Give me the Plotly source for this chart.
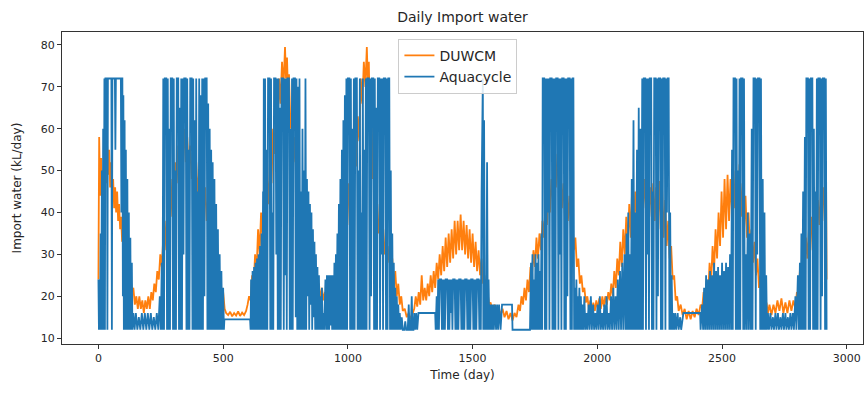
import plotly.graph_objects as go

# ---- Data ----
# DUWCM daily import water (day, kL/day)
duwcm_points = [
(0,24),(3,58),(7,44),(11,53),(15,41),(19,50),(23,45),(27,55),(31,47),(35,56),(39,49),(43,55),(47,46),(51,52),(55,44),(59,48),
(63,41),(67,46),(71,40),(75,45),(79,38),(83,42),(87,36),(91,39),(95,33),(99,36),(104,30),(109,33),(114,27),(119,29),(124,24),(129,25),
(134,21),(140,22),(146,18),(152,20),(158,17),(164,20),(170,17),(176,19),(182,16),(188,19),(194,17),(200,20),(206,17),(212,21),(218,19),
(224,23),(230,21),(236,26),(242,24),(248,30),(254,27),(260,34),(266,31),(272,38),(278,35),(284,43),(290,39),(296,48),(302,44),(308,52),
(314,47),(320,56),(326,50),(332,59),(338,53),(344,60),(350,52),(356,58),(362,50),(368,56),(374,48),(380,54),(386,46),(392,52),(398,44),
(404,50),(410,42),(416,49),(422,40),(428,46),(434,38),(440,44),(446,34),(452,38),(458,30),(464,33),(470,27),(476,29),(482,24),(488,25),
(494,21),(500,21),(506,17),(512,16),(520,15.5),(528,16.3),(536,15.2),(544,16),(552,15.4),(560,16.4),(568,15.3),(576,16.1),(584,15.5),
(592,16.5),(598,18),(604,20),(610,19),(616,25),(622,22),(628,30),(634,26),(640,36),(646,30),(652,40),(658,34),(664,44),(670,38),(676,48),
(682,42),(688,54),(694,47),(700,60),(706,54),(712,66),(718,60),(724,72),(730,66),(736,76),(742,70),(748,79.5),(752,72),(756,77),(760,68),
(764,73),(770,60),(776,64),(782,52),(788,58),(794,45),(800,50),(806,38),(812,43),(818,34),(824,38),(830,30),(836,34),(842,27),(848,31),
(854,24),(860,28),(866,22),(872,25),(878,21),(884,23),(890,19),(896,22),(902,19),(908,21),(914,18.5),(920,21),(926,19),(932,22),(938,20),
(944,24),(950,22),(956,28),(962,25),(968,32),(974,28),(980,37),(986,32),(992,42),(998,37),(1004,47),(1010,41),(1016,52),(1022,46),
(1028,57),(1034,51),(1040,63),(1046,57),(1052,72),(1058,66),(1064,76),(1070,70),(1076,79.5),(1080,71),(1084,76),(1088,62),(1094,66),
(1100,48),(1106,52),(1112,38),(1118,42),(1124,35),(1130,39),(1136,32),(1142,36),(1148,30),(1154,34),(1160,28),(1166,32),(1172,25),
(1178,29),(1184,22),(1190,26),(1196,20),(1202,23),(1208,18),(1214,20),(1220,16.5),(1228,17),(1236,15),(1244,16),(1252,14.5),(1260,16),
(1266,17),(1272,20),(1278,17.5),(1284,21),(1290,18),(1296,25),(1302,19),(1308,22),(1314,19),(1320,23),(1326,20),(1332,25),(1338,21),
(1344,26),(1350,22),(1356,28),(1362,24),(1368,30),(1374,25),(1380,32),(1386,26),(1392,34),(1398,27),(1404,35),(1410,28),(1416,36),
(1422,29),(1428,38),(1434,30),(1440,38),(1446,31),(1452,39.5),(1458,31),(1464,38),(1470,30),(1476,37),(1482,29),(1488,36),(1494,28),
(1500,35),(1506,27),(1512,33),(1518,26),(1524,31),(1530,25),(1536,29),(1542,23),(1548,25),(1554,20),(1560,21),(1566,18),(1572,18.5),
(1580,16.5),(1588,18),(1596,16),(1604,17.5),(1612,15.5),(1620,17),(1628,15),(1636,16.5),(1644,14.5),(1652,16),(1660,14.2),(1668,16),
(1676,15),(1684,18),(1690,16.5),(1696,20),(1702,18),(1708,22),(1714,19),(1720,24),(1726,21),(1732,27),(1738,25),(1744,31),(1750,27),
(1756,34),(1762,29),(1768,35),(1774,31),(1780,38),(1786,34),(1792,42),(1798,37),(1804,45),(1810,40),(1816,48),(1822,43),(1828,52),
(1834,46),(1840,54),(1846,45),(1852,50),(1858,41),(1864,47),(1870,39),(1876,46),(1882,38),(1888,44),(1894,36),(1900,39),(1906,31),
(1912,34),(1918,27),(1924,29),(1930,23),(1936,25),(1942,21),(1948,22),(1954,18.5),(1960,20),(1966,17),(1972,19),(1978,16.5),(1984,18.5),
(1990,16.5),(1996,19),(2002,17),(2008,19.5),(2014,17),(2020,20),(2026,17.5),(2032,20),(2038,18),(2044,21),(2050,19),(2056,23),(2062,20),
(2068,26),(2074,22),(2080,29),(2086,25),(2092,33),(2098,27),(2104,36),(2110,30),(2116,39),(2122,32),(2128,42),(2134,34),(2140,47),
(2146,37),(2152,45),(2158,38),(2164,46),(2170,39),(2176,47),(2182,40),(2188,48),(2194,41),(2200,47),(2206,40),(2212,46),(2218,39),
(2224,47),(2230,38),(2236,46),(2242,37),(2248,47.5),(2254,36),(2260,45),(2266,34),(2272,43),(2278,32),(2284,38),(2290,29),(2296,32),
(2302,24),(2308,25),(2314,19),(2320,20),(2326,16.5),(2334,18),(2342,15.5),(2350,17),(2358,14.5),(2366,16.5),(2374,14.5),(2382,16.5),
(2390,15),(2398,17),(2406,15.5),(2414,18),(2420,17),(2426,21),(2432,18),(2438,24),(2444,20),(2450,28),(2456,23),(2462,32),(2468,26),
(2474,36),(2480,29),(2486,40),(2492,32),(2498,45),(2504,34),(2510,48),(2516,36),(2522,49),(2528,38),(2534,48),(2540,40),(2546,50),
(2552,41),(2558,49),(2564,40),(2570,51.5),(2576,39),(2582,47),(2588,36),(2594,44),(2600,34),(2606,40),(2612,31),(2618,36),(2624,28),
(2630,33),(2636,25),(2642,29),(2648,22),(2654,25),(2660,19.5),(2666,21),(2672,17),(2678,18.5),(2684,16),(2690,18),(2698,15.5),(2706,18),
(2714,16),(2722,19),(2730,16.5),(2738,19.5),(2746,16),(2754,18.5),(2762,16),(2770,19),(2778,16.5),(2786,19),(2794,17),(2800,21),(2806,20),
(2812,26),(2818,23),(2824,30),(2830,26),(2836,34),(2842,29),(2848,36),(2854,31),(2860,39),(2866,33),(2872,41),(2878,35),(2884,43),
(2890,37),(2896,45),(2902,38),(2908,46),(2914,40),(2917,47),(2919,24),
]

# Aquacycle daily import water (day, kL/day)
aquacycle_points = [
(0,24),(2,12),(4,24),(6,12),(9,35),(11,12),(14,50),(16,12),(19,60),(21,12),(24,72),(26,12),(28,72),(34,72),(36,12),(38,72),(52,72),
(54,12),(56,72),(66,72),(68,55),(70,72),(90,72),(92,40),(94,72),(96,72),(98,20),(100,68),(102,12),(105,62),(107,12),(110,55),(112,12),
(116,48),(118,12),(122,40),(124,12),(128,34),(130,12),(134,28),(136,12),
(140,16),(145,12),(150,16),(156,12),(162,15),(168,12),(174,16),(180,12),(186,16),(192,12),(198,16),(204,12),(210,16),(216,12),(222,15),
(228,12),(234,16),(240,12),(246,20),(250,12),(254,28),(257,12),
(260,72),(263,12),(266,72),(272,72),(275,12),(278,72),(281,12),(284,60),(287,12),(290,72),(296,72),(299,12),(302,72),(305,12),(308,50),
(311,12),(314,72),(320,72),(323,12),(326,65),(329,12),(332,72),(335,12),(338,72),(341,30),(344,72),(350,72),(353,12),(356,72),(359,12),
(362,55),(365,12),(368,72),(374,72),(377,12),(380,72),(383,12),(386,62),(389,12),(392,72),(395,12),(398,45),(401,12),(404,72),(407,12),
(410,68),(413,12),(416,72),(419,12),(422,72),(425,20),(428,72),(434,72),(437,12),(440,66),(443,12),(446,60),(449,12),(452,55),(455,12),
(458,52),(461,12),(465,48),(468,12),(472,42),(475,12),(479,36),(482,12),(486,30),(489,12),(493,26),(496,12),(500,22),(503,12),
(505,14.5),(608,14.5),(610,12),
(612,24),(615,12),(618,26),(621,12),(624,27),(627,12),(630,28),(633,12),(636,29),(639,12),(642,30),(645,12),(648,32),(651,12),(654,35),
(657,12),(660,45),(661,12),
(663,72),(665,12),(668,72),(671,12),(674,55),(677,12),(680,72),(686,72),(689,12),(692,72),(695,12),(698,40),(701,12),(704,72),(710,72),
(713,30),(716,72),(719,12),(722,72),(725,12),(728,65),(731,12),(734,72),(740,72),(743,12),(746,72),(749,25),(752,72),(755,12),(758,72),
(764,72),(767,12),(770,60),(773,12),(776,72),(779,12),(782,72),(788,72),(791,15),(794,72),(797,12),(800,70),(803,12),(806,72),(809,12),
(812,45),(815,12),(818,60),(821,12),(824,50),(827,12),(830,72),(833,12),(836,48),(839,20),(842,45),(845,12),(848,42),(851,18),(854,40),
(857,12),(860,36),(863,15),(866,33),(869,12),(872,30),(875,12),(878,27),(881,12),(884,25),(887,12),
(890,20),(893,12),(896,22),(899,12),(902,16),(905,12),(910,24),(913,12),(916,25),(919,12),(922,25),(925,12),(928,25),(931,13),(934,25),
(937,12),(940,25),(943,12),
(946,28),(949,12),(952,30),(955,12),(958,35),(961,12),(964,42),(967,12),(970,48),(973,12),(976,55),(979,12),(982,62),(985,12),(988,68),
(991,12),(994,72),(997,12),
(1000,72),(1006,72),(1009,12),(1012,72),(1015,12),(1018,60),(1021,12),(1024,72),(1027,12),(1030,72),(1036,72),(1039,12),(1042,50),
(1045,12),(1048,72),(1051,12),(1054,40),(1057,12),(1060,72),(1063,12),(1066,55),(1069,12),(1072,72),(1075,12),(1078,72),(1084,72),
(1087,12),(1090,72),(1093,20),(1096,72),(1102,72),(1105,12),(1108,72),(1111,12),(1114,65),(1117,12),(1120,72),(1126,72),(1129,12),
(1132,72),(1135,30),(1138,72),(1141,12),(1144,72),(1150,72),(1153,12),(1156,72),(1159,12),(1162,72),(1166,72),(1169,12),(1172,50),
(1175,12),(1178,35),(1181,12),(1184,28),(1187,12),(1190,22),(1193,12),
(1196,20),(1199,12),(1202,18),(1205,12),(1208,16),(1212,12),(1216,15),(1220,12),(1226,12),(1230,14),(1234,12),(1240,12),(1244,18),
(1247,12),(1252,12),(1256,20),(1259,12),(1263,12),
(1266,16),(1270,12),(1274,16),(1278,12),(1283,16),(1350,16),(1352,12),(1356,20),(1359,12),
(1362,24),(1365,12),(1368,24),(1374,24),(1377,12),(1380,24),(1383,12),(1386,24),(1389,12),(1392,24),(1398,24),(1401,12),(1404,24),
(1407,12),(1410,24),(1413,16),(1416,24),(1419,12),(1422,24),(1428,24),(1431,12),(1434,24),(1437,12),(1440,24),(1443,12),(1446,24),
(1452,24),(1455,12),(1458,24),(1461,12),(1464,24),(1467,12),(1470,24),(1476,24),(1479,12),(1482,24),(1485,12),(1488,24),(1491,12),
(1494,24),(1500,24),(1503,12),(1506,24),(1509,12),(1512,24),(1515,12),(1518,24),(1524,24),(1527,12),(1530,24),(1533,12),(1536,45),
(1539,72),(1541,72),(1543,12),(1546,62),(1549,12),(1552,24),(1555,12),(1558,52),(1561,12),(1564,24),(1567,12),
(1570,18),(1573,12),(1576,18),(1579,12),(1582,18),(1585,12),(1590,18),(1594,12),(1598,18),(1602,12),(1606,18),(1612,12),(1618,18),
(1658,18),(1660,12),(1730,12),
(1734,28),(1737,12),(1740,30),(1743,12),(1746,24),(1749,12),(1752,30),(1755,12),(1758,28),(1761,12),(1764,30),(1767,12),(1770,26),
(1773,12),(1776,35),(1779,12),
(1781,72),(1787,72),(1790,12),(1793,72),(1796,12),(1799,72),(1802,40),(1805,72),(1808,12),(1811,72),(1817,72),(1820,12),(1823,72),
(1826,12),(1829,72),(1832,12),(1835,72),(1841,72),(1844,12),(1847,72),(1850,30),(1853,72),(1856,12),(1859,72),(1865,72),(1868,12),
(1871,72),(1874,12),(1877,72),(1880,20),(1883,72),(1889,72),(1892,12),(1895,72),(1898,12),(1901,72),(1904,72),(1907,12),(1910,22),
(1913,12),(1916,24),(1919,12),(1922,20),(1925,12),(1928,22),(1931,12),(1934,20),(1937,12),
(1940,18),(1944,12),(1948,20),(1952,12),(1956,16),(1960,12),(1965,18),(1969,12),(1974,20),(1978,12),(1983,18),(1987,12),(1992,16),
(1996,12),(2001,18),(2005,12),(2010,20),(2014,12),(2019,16),(2023,12),(2028,18),(2032,12),(2037,20),(2041,12),(2046,16),(2050,12),
(2055,20),(2059,12),(2064,22),(2068,12),(2073,20),(2077,12),(2082,24),(2086,12),(2091,26),(2095,12),(2100,28),(2104,12),(2109,30),
(2113,12),(2117,35),
(2120,12),(2124,40),(2127,12),(2131,30),(2134,12),(2138,48),(2141,12),(2145,62),(2148,12),(2152,40),(2155,12),(2159,55),(2162,12),
(2166,65),(2169,12),(2173,60),(2176,12),(2180,72),(2183,12),(2186,72),(2192,72),(2195,12),(2198,72),(2201,30),(2204,72),(2207,12),
(2210,72),(2216,72),(2219,12),(2222,45),(2225,12),(2228,72),(2234,72),(2237,12),(2240,72),(2243,20),(2246,72),(2252,72),(2255,12),
(2258,72),(2261,12),(2264,72),(2270,72),(2273,12),(2276,72),(2279,40),(2282,72),(2286,72),(2289,12),(2292,40),(2295,12),(2298,25),
(2301,12),
(2304,16),(2308,12),(2312,16),(2316,12),(2322,16),(2326,12),(2332,15),(2336,12),(2345,16),(2412,16),(2414,12),(2420,18),(2424,12),
(2428,22),(2432,12),(2436,25),(2440,12),(2444,24),(2448,12),(2452,26),(2456,12),(2460,25),(2464,12),(2468,28),(2472,12),(2476,26),
(2480,12),(2484,27),(2488,12),(2492,25),(2496,12),(2500,28),(2504,12),(2508,26),(2512,12),(2516,28),(2520,12),(2524,27),(2528,12),
(2532,30),(2536,12),
(2540,55),(2543,12),(2546,72),(2552,72),(2555,12),(2558,72),(2561,12),(2564,50),(2567,12),(2570,72),(2573,12),(2576,72),(2582,72),
(2585,12),(2588,72),(2591,12),(2595,30),(2599,12),(2603,40),(2607,12),(2611,35),(2615,12),(2619,60),(2622,12),(2626,72),(2632,72),
(2635,12),(2638,72),(2641,30),(2644,72),(2650,72),(2653,12),(2656,72),(2659,12),(2663,48),(2666,12),(2670,40),(2673,12),(2677,25),
(2680,12),
(2684,16),(2688,12),(2694,16),(2698,12),(2704,15),(2708,12),(2714,16),(2718,12),(2724,16),(2728,12),(2734,15),(2738,12),(2744,16),
(2748,12),(2754,16),(2758,12),(2764,15),(2768,12),(2774,16),(2778,12),(2784,16),(2788,12),(2794,20),(2798,12),(2804,25),(2808,12),
(2812,28),(2815,12),(2818,35),(2821,12),(2825,45),(2828,12),(2832,58),(2835,12),(2838,72),(2844,72),(2847,12),(2850,72),(2853,12),
(2856,72),(2862,72),(2865,12),(2868,60),(2871,12),(2874,45),(2877,12),(2880,72),(2883,12),(2886,72),(2892,72),(2895,12),(2898,72),
(2901,20),(2904,72),(2910,72),(2913,12),(2916,72),(2919,12),
]

duwcm_day = [p[0] for p in duwcm_points]
duwcm_val = [p[1] for p in duwcm_points]
aqua_day = [p[0] for p in aquacycle_points]
aqua_val = [p[1] for p in aquacycle_points]

x_ticks = [0, 500, 1000, 1500, 2000, 2500, 3000]
y_ticks = [10, 20, 30, 40, 50, 60, 70, 80]

FONT = "DejaVu Sans"

fig = go.Figure()
fig.add_trace(go.Scatter(x=duwcm_day, y=duwcm_val, mode="lines", name="DUWCM",
                         line=dict(color="#ff7f0e", width=1.8)))
fig.add_trace(go.Scatter(x=aqua_day, y=aqua_val, mode="lines", name="Aquacycle",
                         line=dict(color="#1f77b4", width=1.8)))

axis_common = dict(showline=True, mirror=True, linecolor="#333333", linewidth=1,
                   ticks="outside", ticklen=4, tickcolor="#333333", showgrid=False,
                   zeroline=False, automargin=False,
                   tickfont=dict(family=FONT, size=11, color="#262626"))

fig.update_layout(
    width=865, height=394,
    margin=dict(l=62, r=2, t=32, b=50, autoexpand=False),
    paper_bgcolor="white", plot_bgcolor="white",
    font=dict(family=FONT, size=12, color="#262626"),
    title=dict(text="Daily Import water", x=(62 + 863) / 2 / 865, xanchor="center", y=0.957, yanchor="middle",
               yref="container", font=dict(family=FONT, size=14, color="#262626")),
    xaxis=dict(range=[-146, 3065], tickvals=x_ticks,
               title=dict(text="Time (day)", font=dict(family=FONT, size=12), standoff=6),
               **axis_common),
    yaxis=dict(range=[8.6, 83.1], tickvals=y_ticks,
               title=dict(text="Import water (kL/day)", font=dict(family=FONT, size=12), standoff=16),
               **axis_common),
    legend=dict(x=0.42, xanchor="left", y=0.978, yanchor="top",
                bgcolor="rgba(255,255,255,0.85)", bordercolor="#cccccc", borderwidth=1,
                font=dict(family=FONT, size=14, color="#262626"), itemwidth=30,
                tracegroupgap=4),
    showlegend=True,
)

fig.write_html("out.html", config={"displayModeBar": False},
               post_script="document.body.style.margin='0';document.body.style.padding='0';")
